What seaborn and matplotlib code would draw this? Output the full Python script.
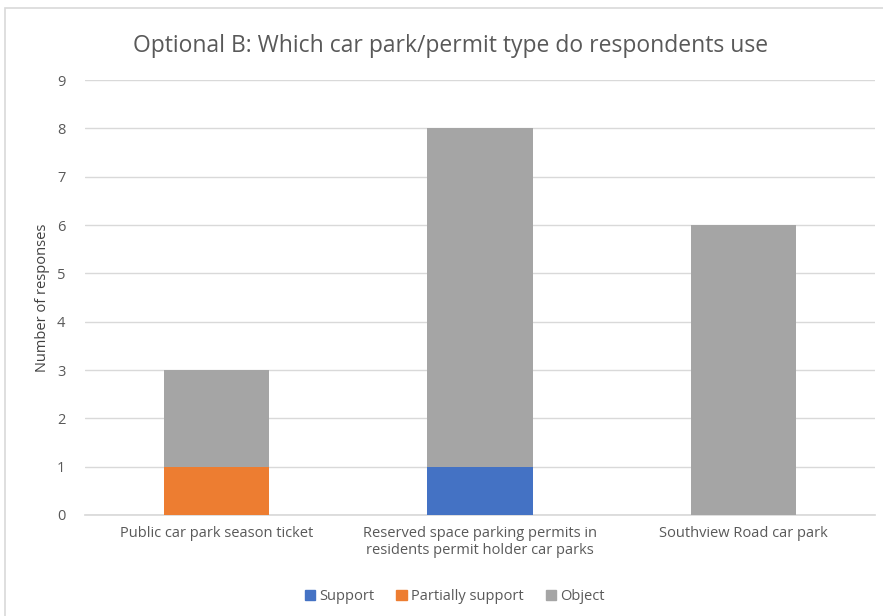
import pandas as pd
import matplotlib.pyplot as plt
import seaborn as sns
from matplotlib.patches import Patch, Rectangle

# Chart data
categories = ['Public car park season ticket',
              'Reserved space parking permits in\nresidents permit holder car parks',
              'Southview Road car park']
support = [0, 1, 0]
partially_support = [1, 0, 0]
object_ = [2, 7, 6]
y_ticks = list(range(0, 10))

df = pd.DataFrame({'category': categories, 'Support': support,
                   'Partially support': partially_support, 'Object': object_})
df['top_object'] = df['Support'] + df['Partially support'] + df['Object']
df['top_partial'] = df['Support'] + df['Partially support']

colors = {'Support': '#4472C4', 'Partially support': '#ED7D31', 'Object': '#A5A5A5'}
text_color = '#595959'

sns.set_theme(style='white')
plt.rcParams['font.family'] = ['Open Sans', 'DejaVu Sans']

fig = plt.figure(figsize=(8.83, 6.16), dpi=100)
ax = fig.add_axes([0.096, 0.164, 0.895, 0.706])

# Stacked bars drawn as overlapping cumulative totals
sns.barplot(data=df, x='category', y='top_object', color=colors['Object'],
            width=0.4, saturation=1, linewidth=0, ax=ax, zorder=3)
sns.barplot(data=df, x='category', y='top_partial', color=colors['Partially support'],
            width=0.4, saturation=1, linewidth=0, ax=ax, zorder=3)
sns.barplot(data=df, x='category', y='Support', color=colors['Support'],
            width=0.4, saturation=1, linewidth=0, ax=ax, zorder=3)

ax.set_xlim(-0.5, 2.5)
ax.set_ylim(0, 9)
ax.set_yticks(y_ticks)
ax.yaxis.grid(True, color='#D9D9D9', linewidth=1, zorder=0)
ax.set_axisbelow(True)
for side in ['top', 'right', 'left']:
    ax.spines[side].set_visible(False)
ax.spines['bottom'].set_color('#D9D9D9')
ax.tick_params(axis='both', length=0, colors=text_color, labelsize=10.5)
ax.tick_params(axis='y', pad=14)
ax.tick_params(axis='x', pad=8)
ax.set_xlabel('')
ax.set_ylabel('Number of responses', color='#404040', fontsize=10.5, labelpad=5)

fig.suptitle('Optional B: Which car park/permit type do respondents use',
             x=0.51, y=0.945, fontsize=16.5, color=text_color)

handles = [Patch(color=colors[k]) for k in ['Support', 'Partially support', 'Object']]
fig.legend(handles, ['Support', 'Partially support', 'Object'], loc='center',
           bbox_to_anchor=(0.515, 0.031), ncol=3, frameon=False, fontsize=10.5,
           handlelength=0.7, handleheight=0.7, handletextpad=0.3, columnspacing=1.5,
           labelcolor=text_color)

# chart area border
fig.patches.append(Rectangle((0.006, -0.01), 1.2, 0.997, transform=fig.transFigure,
                             fill=False, edgecolor='#D9D9D9', linewidth=1.2))

fig.savefig('out.png', dpi=100)
